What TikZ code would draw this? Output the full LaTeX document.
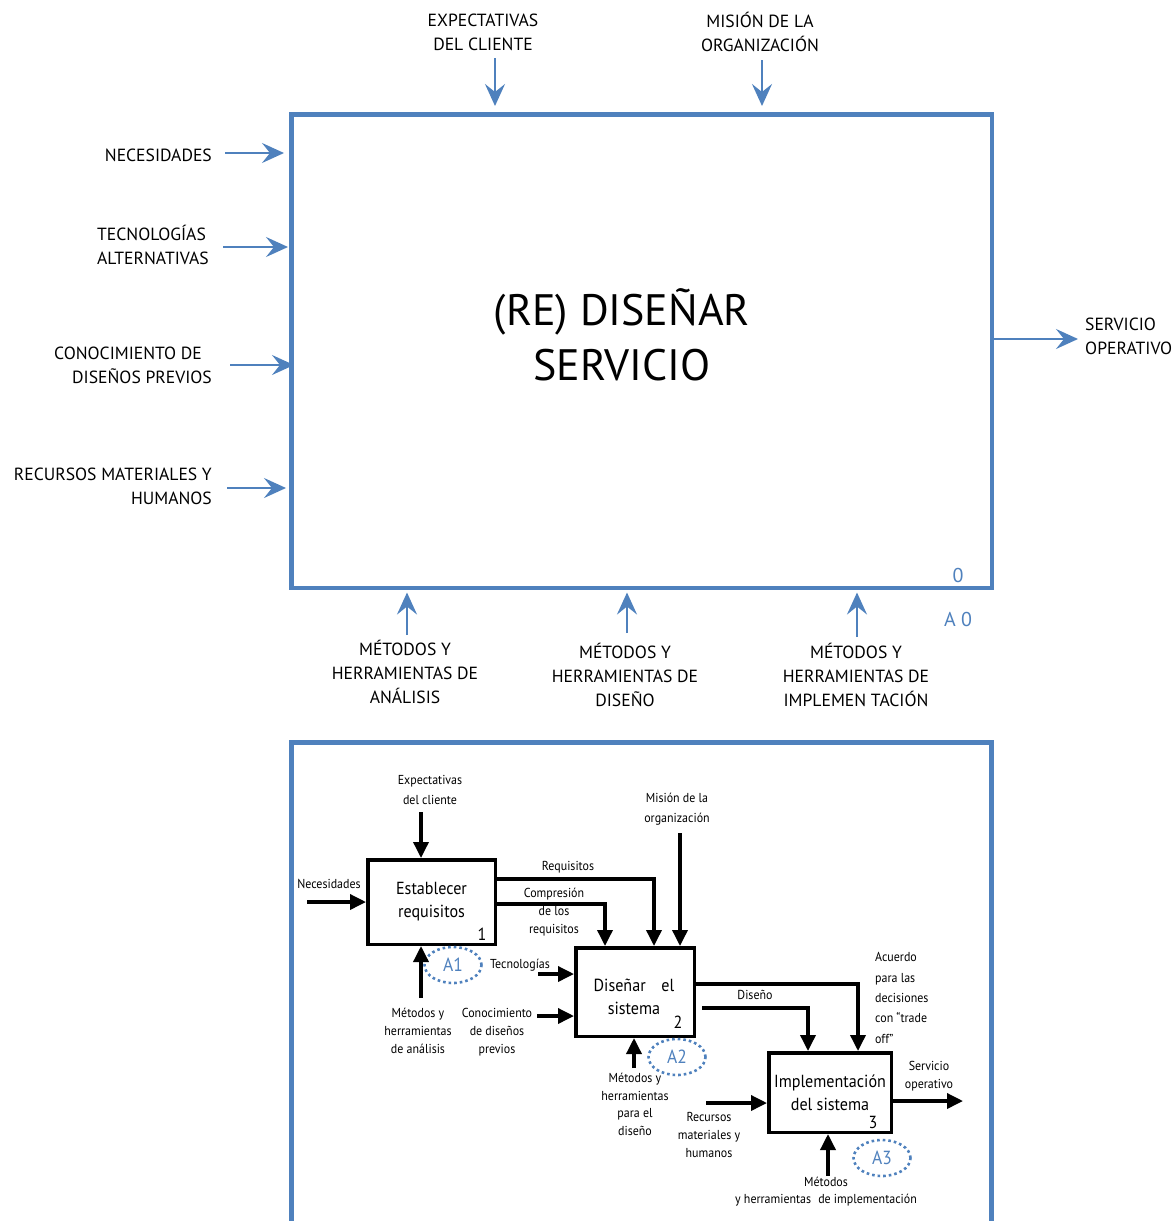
\documentclass[tikz,border=0pt]{standalone}
\usepackage{fontspec}
\setmainfont{PT Sans}
\newfontfamily\condfont[FakeStretch=0.92]{PT Sans}
\usepackage{tikz}
\usetikzlibrary{arrows.meta,shapes.geometric,positioning}
\definecolor{idefblue}{RGB}{79,129,189}

\begin{document}
\begin{tikzpicture}[x=1pt,y=-1pt,
  bluearrow/.style={draw=idefblue, line width=2.2pt,
    -{Stealth[length=22pt,width=20pt,inset=8pt]}},
  blackarrow/.style={draw=black, line width=3.5pt,
    -{Triangle[length=16pt,width=15pt]}},
  procbox/.style={draw=black, line width=3.5pt, rectangle, inner sep=0pt,
    font=\condfont\fontsize{17.5}{23}\selectfont, align=center},
  capslabel/.style={font=\fontsize{17.6}{24}\selectfont, inner sep=0pt},
  smalllabel/.style={font=\condfont\fontsize{13}{18}\selectfont,
    inner sep=0pt, align=center},
  boxnum/.style={font=\condfont\fontsize{17.5}{17.5}\selectfont, inner sep=0pt},
  nodetag/.style={draw=idefblue, ellipse, line width=2.6pt,
    dash pattern=on 2.6pt off 3pt, text=idefblue,
    font=\condfont\fontsize{19}{19}\selectfont,
    minimum width=57pt, minimum height=36pt, inner sep=0pt}]
  \useasboundingbox (0,0) rectangle (1175,1221);

  \node[draw=idefblue, line width=4.5pt, rectangle, inner sep=0pt,
    minimum width=700.5pt, minimum height=473.5pt] (a0) at (641.5,351) {};
  \node[font=\fontsize{44}{55}\selectfont, align=center, inner sep=0pt]
    (title) at (622,335) {(RE) DISEÑAR\\SERVICIO};
  \node[font=\fontsize{20}{20}\selectfont, text=idefblue, inner sep=0pt]
    (zero) at (958,575) {0};
  \node[font=\fontsize{20}{20}\selectfont, text=idefblue, inner sep=0pt]
    (a0tag) at (958,619) {A 0};

  \node[capslabel, align=center] (lexp) at (483,32) {EXPECTATIVAS\\DEL CLIENTE};
  \node[capslabel, align=center] (lmis) at (760,32) {MISIÓN DE LA\\ORGANIZACIÓN};
  \node[capslabel, anchor=east] (lnec) at (212,155) {NECESIDADES};
  \node[capslabel, anchor=west, align=left] (ltec) at (97,245)
    {TECNOLOGÍAS\\ALTERNATIVAS};
  \node[capslabel, anchor=east, align=right] (lcon) at (212,365)
    {CONOCIMIENTO DE\hspace*{10pt}\\DISEÑOS PREVIOS};
  \node[capslabel, anchor=east, align=right] (lrec) at (212,486)
    {RECURSOS MATERIALES Y\\HUMANOS};
  \node[capslabel, anchor=west, align=left] (lsrv) at (1085,336)
    {SERVICIO\\OPERATIVO};
  \node[capslabel, align=center] (lman) at (405,672)
    {MÉTODOS Y\\HERRAMIENTAS DE\\ANÁLISIS};
  \node[capslabel, align=center] (lmdi) at (625,675)
    {MÉTODOS Y\\HERRAMIENTAS DE\\DISEÑO};
  \node[capslabel, align=center] (lmim) at (856,675)
    {MÉTODOS Y\\HERRAMIENTAS DE\\IMPLEMEN TACIÓN};

  \coordinate (expin) at (495,58);
  \coordinate (misin) at (762,60);
  \coordinate (necin) at (225,153);
  \coordinate (tecin) at (223,247);
  \coordinate (conin) at (230,365);
  \coordinate (recin) at (227,488);
  \coordinate (srvout) at (1078,339);
  \coordinate (manin) at (407,635);
  \coordinate (mdiin) at (627,633);
  \coordinate (mimin) at (857,637);

  \draw[bluearrow, shorten >=6pt] (expin) -- (expin |- a0.north);
  \draw[bluearrow, shorten >=6pt] (misin) -- (misin |- a0.north);
  \draw[bluearrow, shorten >=5pt] (necin) -- (necin -| a0.west);
  \draw[bluearrow, shorten >=1pt] (tecin) -- (tecin -| a0.west);
  \draw[bluearrow, shorten >=-5pt] (conin) -- (conin -| a0.west);
  \draw[bluearrow, shorten >=3pt] (recin) -- (recin -| a0.west);
  \draw[bluearrow] (srvout -| a0.east) -- (srvout);
  \draw[bluearrow, shorten >=2.5pt] (manin) -- (manin |- a0.south);
  \draw[bluearrow, shorten >=2.5pt] (mdiin) -- (mdiin |- a0.south);
  \draw[bluearrow, shorten >=2.5pt] (mimin) -- (mimin |- a0.south);

  \draw[idefblue, line width=4.5pt] (291.5,1225) |- (991.5,742.5) -- (991.5,1225);

  \node[procbox, minimum width=127.5pt, minimum height=84.5pt] (b1)
    at (431.5,902) {Establecer\\requisitos};
  \node[procbox, minimum width=118.5pt, minimum height=88.5pt] (b2)
    at (635,992) {};
  \node[procbox, draw=none] (b2text) at (634,997) {Diseñar\hspace{0.9em}el\\sistema};
  \node[procbox, minimum width=122.5pt, minimum height=79.5pt] (b3)
    at (830,1092.5) {Implementación\\del sistema};
  \node[boxnum] (n1) at (482,934) {1};
  \node[boxnum] (n2) at (678,1022) {2};
  \node[boxnum] (n3) at (873,1122) {3};
  \node[nodetag] (t1) at (453,965) {A1};
  \node[nodetag] (t2) at (677,1057) {A2};
  \node[nodetag] (t3) at (882,1158) {A3};

  \node[smalllabel, font=\condfont\fontsize{13}{20}\selectfont] (sexp)
    at (430,790) {Expectativas\\del cliente};
  \node[smalllabel, font=\condfont\fontsize{13}{20}\selectfont] (smis)
    at (677,809) {Misión de la\\organización};
  \node[smalllabel] (snec) at (329,884) {Necesidades};
  \node[smalllabel] (sreq) at (568,867) {Requisitos};
  \node[smalllabel] (scom) at (554,912) {Compresión\\de los\\requisitos};
  \node[smalllabel] (stec) at (520,965) {Tecnologías};
  \node[smalllabel] (sman) at (418,1031) {Métodos y\\herramientas\\de análisis};
  \node[smalllabel] (scon) at (497,1032) {Conocimiento\\de diseños\\previos};
  \node[smalllabel] (sdis) at (755,995) {Diseño};
  \node[smalllabel, align=left, anchor=west,
    font=\condfont\fontsize{13}{20.3}\selectfont] (sacu) at (875,998)
    {Acuerdo\\para las\\decisiones\\con “trade\\off”};
  \node[smalllabel, font=\condfont\fontsize{13}{17.7}\selectfont] (smdi)
    at (635,1104.5) {Métodos y\\herramientas\\para el\\diseño};
  \node[smalllabel] (srec) at (709,1135) {Recursos\\materiales y\\humanos};
  \node[smalllabel] (ssrv) at (929,1076) {Servicio\\operativo};
  \node[smalllabel, font=\condfont\fontsize{13}{17}\selectfont] (smim)
    at (826,1191.5) {Métodos\\y herramientas\hspace{0.3em} de implementación};

  \coordinate (expb) at (421,812);
  \coordinate (misb) at (680,833);
  \coordinate (necb) at (307,902);
  \coordinate (manb) at (421,998);
  \coordinate (tecb) at (538,974);
  \coordinate (conb) at (537,1016);
  \coordinate (mdib) at (634,1068);
  \coordinate (recb) at (706,1103);
  \coordinate (srvb) at (963,1101);
  \coordinate (mimb) at (828,1176);

  \draw[blackarrow] (expb) -- (expb |- b1.north);
  \draw[blackarrow] (necb) -- (necb -| b1.west);
  \draw[blackarrow] (manb) -- (manb |- b1.south);
  \draw[blackarrow] ([yshift=23pt]b1.east) -| ([xshift=19pt]b2.north);
  \draw[blackarrow] ([yshift=-2pt]b1.east) -| ([xshift=-30pt]b2.north);
  \draw[blackarrow] (misb) -- (misb |- b2.north);
  \draw[blackarrow] (tecb) -- (tecb -| b2.west);
  \draw[blackarrow] (conb) -- (conb -| b2.west);
  \draw[blackarrow] (mdib) -- (mdib |- b2.south);
  \draw[blackarrow] ([yshift=8pt]b2.east) -| ([xshift=28pt]b3.north);
  \draw[blackarrow] ([xshift=6pt,yshift=-16pt]b2.east) -| ([xshift=-22pt]b3.north);
  \draw[blackarrow] (recb) -- (recb -| b3.west);
  \draw[blackarrow] (srvb -| b3.east) -- (srvb);
  \draw[blackarrow] (mimb) -- (mimb |- b3.south);
\end{tikzpicture}
\end{document}
